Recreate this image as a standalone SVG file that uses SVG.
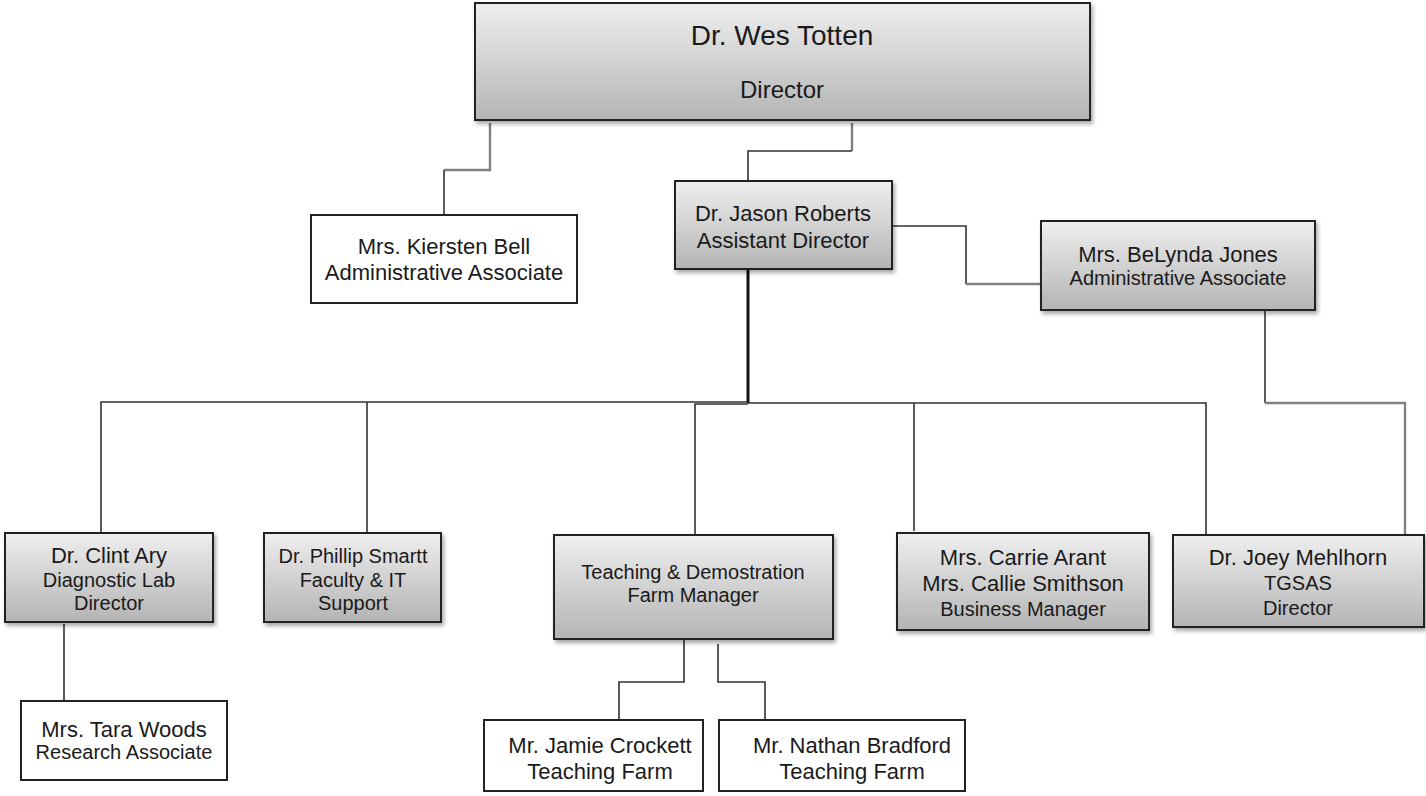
<svg xmlns="http://www.w3.org/2000/svg" width="1426" height="796" viewBox="0 0 1426 796">
<defs>
<linearGradient id="g" x1="0" y1="0" x2="0" y2="1">
<stop offset="0" stop-color="#efefef"/>
<stop offset="1" stop-color="#b4b4b4"/>
</linearGradient>
<filter id="sh" x="-5%" y="-5%" width="115%" height="120%">
<feGaussianBlur in="SourceAlpha" stdDeviation="2"/>
<feOffset dx="2" dy="3" result="b"/>
<feComponentTransfer><feFuncA type="linear" slope="0.35"/></feComponentTransfer>
<feMerge><feMergeNode/><feMergeNode in="SourceGraphic"/></feMerge>
</filter>
</defs>
<style>
.gb{fill:url(#g);stroke:#222;stroke-width:2;filter:url(#sh)}
.wb{fill:#fff;stroke:#222;stroke-width:2}
text{font-family:"Liberation Sans",Arial,sans-serif;fill:#1a1a1a;text-anchor:middle}
.n{font-size:22px}
.s{font-size:20px}
.c{fill:none;stroke:#333;stroke-width:1.6}
.cg{fill:none;stroke:#808080;stroke-width:2.4}
.ck{fill:none;stroke:#111;stroke-width:3}
</style>
<g id="connectors">
<path class="cg" d="M490,123 V170 H444"/>
<path class="c" d="M444,170 V215"/>
<path class="cg" d="M852,123 V151"/>
<path class="c" d="M852,151 H748 V181"/>
<path class="c" d="M892,226 H966 V284"/>
<path class="cg" d="M966,284 H1040"/>
<path class="ck" d="M748,269 V403"/>
<path class="c" d="M748,402 H101 V533"/>
<path class="c" d="M367,402 V533"/>
<path class="c" d="M748,404 H695 V535"/>
<path class="c" d="M748,403 H1206 V535"/>
<path class="c" d="M914,403 V531"/>
<path class="c" d="M1265,310 V403"/>
<path class="cg" d="M1265,403 H1405 V535"/>
<path class="c" d="M64,624 V701"/>
<path class="c" d="M684,639 V682 H619 V720"/>
<path class="c" d="M718,644 V682 H765 V720"/>
</g>
<g id="wes">
<rect class="gb" x="475" y="3" width="615" height="117"/>
<text x="782" y="45" style="font-size:28px">Dr. Wes Totten</text>
<text x="782" y="98" style="font-size:24px">Director</text>
</g>
<g id="kiersten">
<rect class="wb" x="311" y="215" width="266" height="88"/>
<text class="n" x="444" y="254">Mrs. Kiersten Bell</text>
<text class="n" x="444" y="280">Administrative Associate</text>
</g>
<g id="jason">
<rect class="gb" x="675" y="181" width="217" height="88"/>
<text class="n" x="783" y="221">Dr. Jason Roberts</text>
<text class="n" x="783" y="248">Assistant Director</text>
</g>
<g id="belynda">
<rect class="gb" x="1041" y="221" width="274" height="89"/>
<text class="n" x="1178" y="262">Mrs. BeLynda Jones</text>
<text class="s" x="1178" y="285">Administrative Associate</text>
</g>
<g id="clint">
<rect class="gb" x="5" y="533" width="208" height="89"/>
<text class="n" x="109" y="563">Dr. Clint Ary</text>
<text class="s" x="109" y="587">Diagnostic Lab</text>
<text class="s" x="109" y="610">Director</text>
</g>
<g id="phillip">
<rect class="gb" x="264" y="533" width="177" height="89"/>
<text class="s" x="353" y="563">Dr. Phillip Smartt</text>
<text class="s" x="353" y="587">Faculty &amp; IT</text>
<text class="s" x="353" y="610">Support</text>
</g>
<g id="teaching">
<rect class="gb" x="554" y="535" width="279" height="104"/>
<text class="s" x="693" y="579">Teaching &amp; Demostration</text>
<text class="s" x="693" y="602">Farm Manager</text>
</g>
<g id="carrie">
<rect class="gb" x="897" y="533" width="252" height="97"/>
<text class="n" x="1023" y="565">Mrs. Carrie Arant</text>
<text class="n" x="1023" y="591">Mrs. Callie Smithson</text>
<text class="s" x="1023" y="616">Business Manager</text>
</g>
<g id="joey">
<rect class="gb" x="1173" y="535" width="251" height="92"/>
<text class="n" x="1298" y="565">Dr. Joey Mehlhorn</text>
<text class="s" x="1298" y="590">TGSAS</text>
<text class="s" x="1298" y="615">Director</text>
</g>
<g id="tara">
<rect class="wb" x="21" y="701" width="206" height="79"/>
<text class="n" x="124" y="737">Mrs. Tara Woods</text>
<text class="s" x="124" y="759">Research Associate</text>
</g>
<g id="jamie">
<rect class="wb" x="484" y="720" width="219" height="71"/>
<text class="n" x="600" y="753">Mr. Jamie Crockett</text>
<text class="n" x="600" y="779">Teaching Farm</text>
</g>
<g id="nathan">
<rect class="wb" x="719" y="720" width="246" height="71"/>
<text class="n" x="852" y="753">Mr. Nathan Bradford</text>
<text class="n" x="852" y="779">Teaching Farm</text>
</g>
</svg>
